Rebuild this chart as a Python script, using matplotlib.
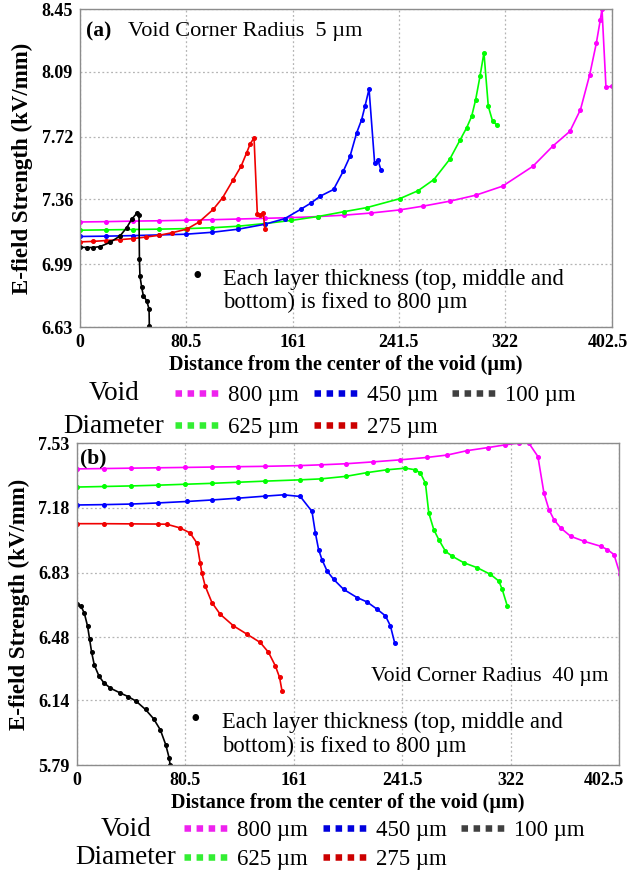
import numpy as np
import matplotlib
matplotlib.use('Agg')
import matplotlib.pyplot as plt
from matplotlib.lines import Line2D
from matplotlib.transforms import ScaledTranslation

plt.rcParams['font.family'] = ['Liberation Serif', 'DejaVu Serif']
plt.rcParams['mathtext.default'] = 'regular'

# ---- data, (a) corner radius 5 um ----
a_800_x = [0, 20, 40, 60, 80, 100, 120, 140, 160, 180, 200, 220, 242, 260, 280,
           300, 320, 343, 358, 371, 379, 386, 391, 394, 395.3, 398.3, 402.5]
a_800_y = [7.231, 7.233, 7.236, 7.238, 7.241, 7.244, 7.248, 7.252, 7.256, 7.262,
           7.270, 7.282, 7.300, 7.322, 7.350, 7.385, 7.436, 7.550, 7.665, 7.750,
           7.874, 8.074, 8.254, 8.387, 8.450, 8.003, 8.007]

a_625_x = [0, 20, 40, 60, 80, 100, 120, 140, 160, 180, 200, 217, 242, 256, 268,
           280, 288, 292.8, 296.6, 299.6, 302.9, 305.9, 309.2, 312.5, 315.5]
a_625_y = [7.184, 7.186, 7.188, 7.190, 7.193, 7.198, 7.207, 7.222, 7.240, 7.262,
           7.290, 7.313, 7.364, 7.410, 7.474, 7.590, 7.703, 7.770, 7.836, 7.930,
           8.064, 8.200, 7.893, 7.807, 7.788]

a_450_x = [0, 20, 40, 60, 80, 100, 120, 140, 155, 167, 175, 182, 192, 199.4,
           204.5, 209.5, 213.3, 215.8, 218.9, 223.1, 225.7, 228]
a_450_y = [7.148, 7.150, 7.153, 7.157, 7.161, 7.172, 7.190, 7.218, 7.250, 7.303,
           7.340, 7.379, 7.417, 7.522, 7.607, 7.741, 7.817, 7.893, 7.992, 7.570,
           7.583, 7.526]

a_275_x = [0, 10, 20, 30, 40.4, 50, 60, 70, 80.8, 90, 100.9, 108, 116.1, 122,
           126.2, 129, 131.8, 134.3, 136.5, 138.8, 140]
a_275_y = [7.117, 7.120, 7.125, 7.130, 7.136, 7.145, 7.155, 7.170, 7.190, 7.230,
           7.303, 7.370, 7.474, 7.550, 7.627, 7.680, 7.712, 7.275, 7.270, 7.280,
           7.190]

a_100_x = [0, 5, 10, 15, 22.7, 30.3, 35.4, 39.1, 42.9, 44.7, 45.0, 45.4, 46.7,
           48, 50.5, 52.3, 52.5, 53]
a_100_y = [7.087, 7.085, 7.085, 7.090, 7.114, 7.151, 7.199, 7.246, 7.280, 7.270,
           7.018, 6.923, 6.857, 6.809, 6.780, 6.733, 6.638, 6.600]

# ---- (b) corner radius 40 um ----
b_800_x = [0, 20, 40, 60, 80, 100, 120, 140, 166, 181, 200, 220, 240, 260, 275,
           290, 305, 318, 328, 335.6, 342.3, 346.8, 350.5, 354.2, 359.2, 366.6,
           376.5, 388.9, 393.9, 398.8, 403.3]
b_800_y = [7.390, 7.392, 7.394, 7.396, 7.398, 7.400, 7.402, 7.404, 7.408, 7.412,
           7.418, 7.428, 7.439, 7.452, 7.465, 7.489, 7.505, 7.520, 7.530, 7.529,
           7.457, 7.259, 7.170, 7.116, 7.071, 7.026, 6.999, 6.972, 6.954, 6.927,
           6.820]

b_625_x = [0, 20, 40, 60, 80, 100, 120, 140, 166, 181, 200, 215.5, 230, 244,
           251.4, 255.1, 258.8, 261.3, 265, 268.7, 273.7, 278.7, 287.3, 297.3,
           307.1, 313.3, 315.8, 319.6]
b_625_y = [7.292, 7.295, 7.298, 7.302, 7.307, 7.312, 7.318, 7.324, 7.331, 7.336,
           7.350, 7.370, 7.385, 7.394, 7.385, 7.367, 7.313, 7.152, 7.062, 7.008,
           6.945, 6.918, 6.883, 6.856, 6.820, 6.784, 6.739, 6.649]

b_450_x = [0, 20, 40, 60, 81.7, 100, 120, 140, 153.5, 165.9, 174.6, 177.1, 179.5,
           182, 185.8, 190.7, 198.1, 208, 215.5, 222.9, 229.1, 232.8, 236]
b_450_y = [7.195, 7.197, 7.200, 7.206, 7.214, 7.222, 7.232, 7.243, 7.250, 7.241,
           7.160, 7.044, 6.954, 6.900, 6.838, 6.793, 6.739, 6.695, 6.671, 6.632,
           6.596, 6.542, 6.449]

b_275_x = [0, 20, 40, 60, 66.8, 76.7, 84.1, 89.1, 91.6, 92.8, 95.3, 100.3, 106.4,
           116.3, 126.3, 136.2, 142.3, 147.3, 150.5, 152.3]
b_275_y = [7.094, 7.094, 7.093, 7.092, 7.091, 7.071, 7.044, 6.990, 6.883, 6.829,
           6.757, 6.668, 6.605, 6.542, 6.497, 6.452, 6.399, 6.327, 6.264, 6.192]

b_100_x = [0, 3, 5.6, 8, 9.5, 11, 13, 16.5, 20, 25, 32, 38, 44, 51, 57, 62, 66,
           68.5, 69.3]
b_100_y = [6.659, 6.650, 6.610, 6.540, 6.470, 6.400, 6.330, 6.270, 6.235, 6.205,
           6.180, 6.160, 6.135, 6.090, 6.040, 5.980, 5.900, 5.830, 5.790]

xticks = [0, 80.5, 161, 241.5, 322, 402.5]
xtick_labels = ['0', '80.5', '161', '241.5', '322', '402.5']
a_yticks = [6.63, 6.99, 7.36, 7.72, 8.09, 8.45]
b_yticks = [5.79, 6.14, 6.48, 6.83, 7.18, 7.53]

diam_labels = ['800 µm', '625 µm', '450 µm', '275 µm', '100 µm']
line_cols = ['#ff00ff', '#00ff00', '#0000ff', '#f00000', '#000000']
leg_cols = ['#ee22ee', '#33ee33', '#0000dd', '#cc0000', '#404040']

note = 'Each layer thickness (top, middle and\nbottom) is fixed to 800 µm'

W, H = 631, 873
fig = plt.figure(figsize=(W / 100, H / 100), dpi=100)


def px_axes(l, t, r, b):
    return fig.add_axes([l / W, 1 - b / H, (r - l) / W, (b - t) / H])


def style(ax, yticks, last_shift):
    ax.set_xlim(0, 402.5)
    ax.set_ylim(yticks[0], yticks[-1])
    ax.set_xticks(xticks)
    ax.set_xticklabels(xtick_labels)
    ax.set_yticks(yticks)
    ax.set_yticklabels(['%.2f' % v for v in yticks])
    ax.tick_params(length=0, labelsize=13, pad=5)
    for lab in ax.get_xticklabels() + ax.get_yticklabels():
        lab.set_fontweight('bold')
    # keep the last x label inside the figure like the original
    last = ax.get_xticklabels()[-1]
    last.set_transform(last.get_transform() +
                       ScaledTranslation(-last_shift / 100, 0, fig.dpi_scale_trans))
    ax.grid(True, linestyle=(0, (1.5, 2)), color='#b4b4b4', lw=0.9)
    for s in ax.spines.values():
        s.set_color('#8c8c8c')
        s.set_linewidth(1.0)
    ax.set_xlabel('Distance from the center of the void (µm)', fontsize=14.5,
                  fontweight='bold', labelpad=3)
    ax.set_ylabel('E-field Strength (kV/mm)', fontsize=16.5, fontweight='bold',
                  labelpad=6)


def legend_titles(top, text_x, gap):
    fig.text(text_x / W, 1 - top / H, 'Void', fontsize=19.5, ha='center',
             va='center')
    fig.text(text_x / W, 1 - (top + gap) / H, 'Diameter', fontsize=19.5,
             ha='center', va='center')


def annotate(ax, bx, by, tx, ty):
    ax.text(bx, by, '•', transform=ax.transAxes, fontsize=20, va='center',
            ha='center')
    ax.text(tx, ty, note, transform=ax.transAxes, fontsize=16.3, va='center',
            linespacing=1.12)


ax1 = px_axes(80, 9, 611.5, 327)
series_a = [(a_800_x, a_800_y), (a_625_x, a_625_y), (a_450_x, a_450_y),
            (a_275_x, a_275_y), (a_100_x, a_100_y)]
for (x, y), c in zip(series_a, line_cols):
    ax1.plot(x, y, '-', color=c, lw=1.2, marker='o', ms=2.6)
style(ax1, a_yticks, 4)
ax1.text(0.011, 0.928, '(a)', transform=ax1.transAxes, fontsize=15.5,
         fontweight='bold', va='center')
ax1.text(0.090, 0.928, 'Void Corner Radius  5 µm', transform=ax1.transAxes,
         fontsize=16, va='center')
annotate(ax1, 0.22, 0.157, 0.269, 0.114)

ax2 = px_axes(76.8, 443, 619, 765)
series_b = [(b_800_x, b_800_y), (b_625_x, b_625_y), (b_450_x, b_450_y),
            (b_275_x, b_275_y), (b_100_x, b_100_y)]
for (x, y), c in zip(series_b, line_cols):
    ax2.plot(x, y, '-', color=c, lw=1.2, marker='o', ms=2.6)
style(ax2, b_yticks, 15)
ax2.text(0.006, 0.953, '(b)', transform=ax2.transAxes, fontsize=15.5,
         fontweight='bold', va='center')
ax2.text(0.98, 0.274, 'Void Corner Radius  40 µm', transform=ax2.transAxes,
         fontsize=15.5, va='center', ha='right')
annotate(ax2, 0.218, 0.137, 0.267, 0.095)

# legends: column-major order gives rows 800/450/100 and 625/275
handles = [Line2D([0], [0], color=c, lw=4.7, linestyle=(0, (1, 0.85)),
                  dash_capstyle='butt') for c in leg_cols]
labels = list(diam_labels)
handles.append(Line2D([], [], linestyle='none'))
labels.append('')
for top, hx, tx, sp, gap in [(394, 175, 114, 0.46, 32), (829, 184, 126, 0.36, 29)]:
    fig.legend(handles, labels, ncol=3, loc='upper left',
               bbox_to_anchor=(hx / W, 1 - (top - 9) / H), frameon=False,
               fontsize=16.5, handlelength=1.88, handletextpad=0.43,
               columnspacing=0.65, labelspacing=sp, borderpad=0,
               borderaxespad=0)
    legend_titles(top, tx, gap)

fig.savefig('out.png', dpi=100)
